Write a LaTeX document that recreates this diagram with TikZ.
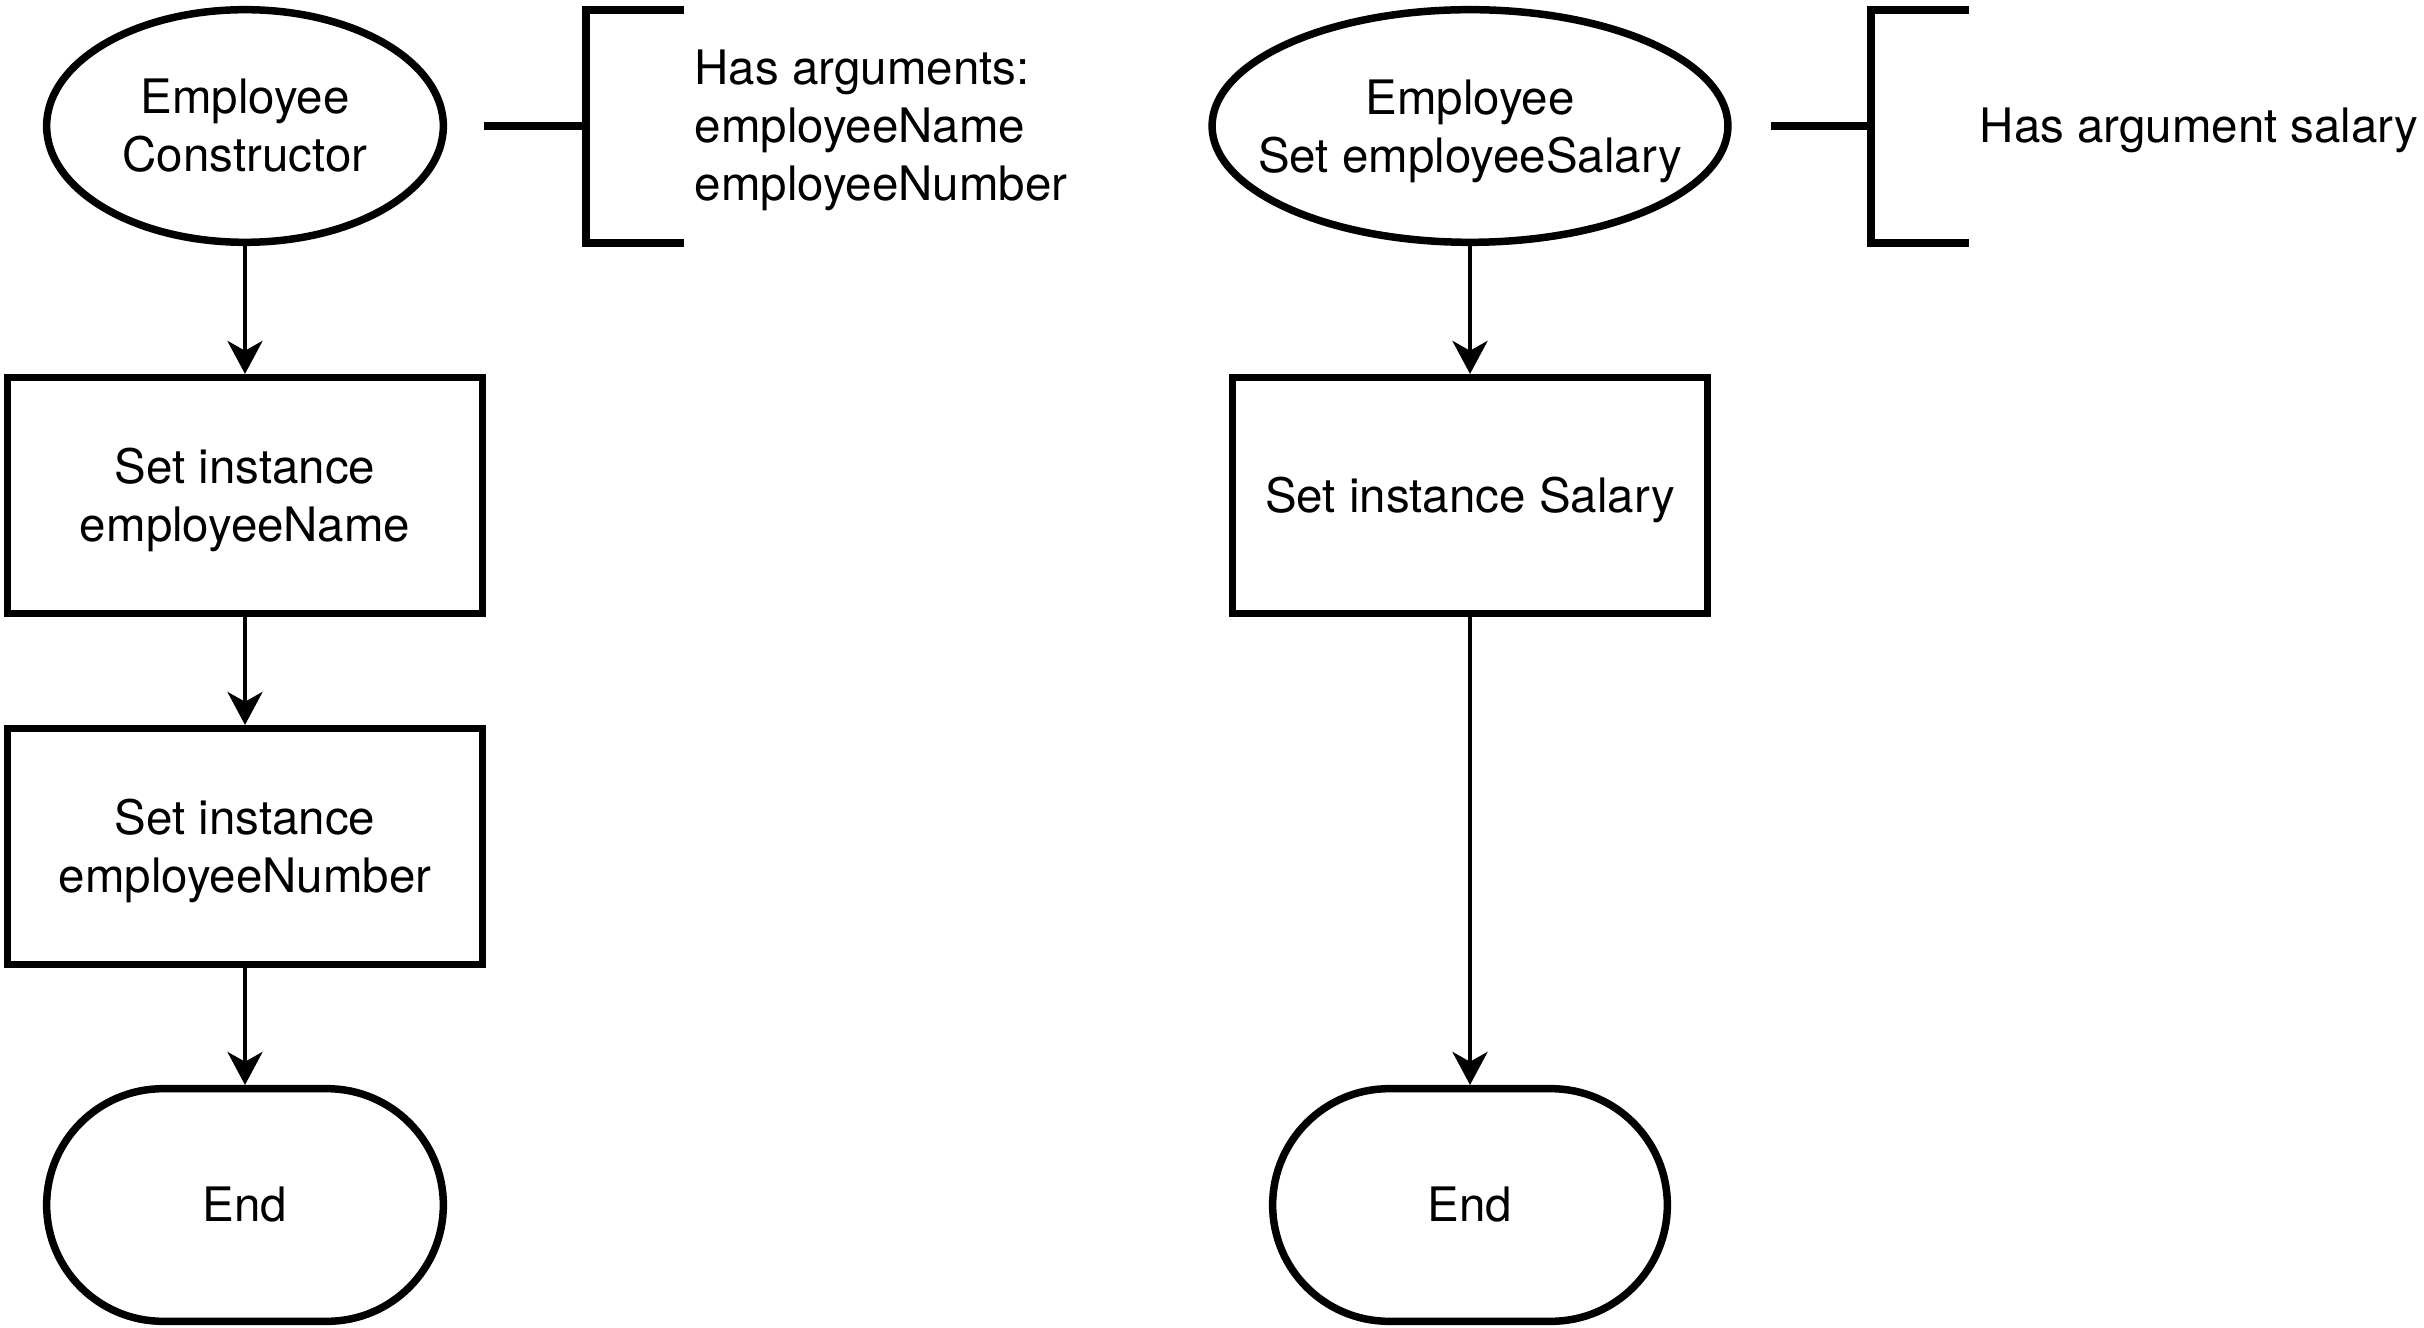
\documentclass[tikz,border=0pt]{standalone}
\usepackage{fontspec}
\setmainfont{TeX Gyre Heros}
\usetikzlibrary{shapes.geometric,arrows.meta}
\begin{document}
\begin{tikzpicture}[x=0.01cm,y=-0.01cm,
  every node/.style={font=\fontsize{13.5}{16.5}\selectfont, inner sep=0pt, align=center},
  bord/.style={draw=black, line width=2.13pt, fill=white},
  ellnode/.style={bord, ellipse, minimum height=2.325cm},
  boxnode/.style={bord, rectangle, minimum width=4.745cm, minimum height=2.355cm},
  endnode/.style={bord, rectangle, rounded corners=1.1625cm, minimum height=2.325cm},
  lbl/.style={yshift=-1.4pt},
  arr/.style={line width=1pt, -{Stealth[length=9.4pt, width=10pt, inset=2.8pt]}},
  brk/.style={line width=2.2pt},
  note/.style={anchor=west, align=left, yshift=-1.2pt}]
\useasboundingbox (0,0) rectangle (2424,1328);
% left column
\node[ellnode, minimum width=3.965cm] (le) at (245,126) {};
\node (let) at (le) {Employee\\Constructor};
\node[boxnode] (lr1) at (245,495.5) {};
\node[lbl] (lr1t) at (lr1) {Set instance\\employeeName};
\node[boxnode] (lr2) at (245,846.5) {};
\node[lbl] (lr2t) at (lr2) {Set instance\\employeeNumber};
\node[endnode, minimum width=3.965cm] (lend) at (245,1205) {End};
\draw[arr] (le) -- (lr1);
\draw[arr] (lr1) -- (lr2);
\draw[arr] (lr2) -- (lend);
% left bracket
\coordinate (lb0) at (484,126);
\coordinate (lb1) at (586,126);
\coordinate (lbt) at (684,10);
\coordinate (lbb) at (684,243);
\draw[brk] (lb0) -- (lb1);
\draw[brk] (lbt) -- (lbt -| lb1) -- (lbb -| lb1) -- (lbb);
\node[note] (lnote) at (694,126) {Has arguments:\\employeeName\\employeeNumber};
% right column
\node[ellnode, minimum width=5.155cm] (re) at (1470,126) {};
\node[lbl] (ret) at (re) {Employee\\Set employeeSalary};
\node[boxnode] (rr1) at (1470,495.5) {};
\node[lbl] (rr1t) at (rr1) {Set instance Salary};
\node[endnode, minimum width=3.945cm] (rend) at (1470,1205) {End};
\draw[arr] (re) -- (rr1);
\draw[arr] (rr1) -- (rend);
% right bracket
\coordinate (rb0) at (1771,126);
\coordinate (rb1) at (1871,126);
\coordinate (rbt) at (1969,10);
\coordinate (rbb) at (1969,243);
\draw[brk] (rb0) -- (rb1);
\draw[brk] (rbt) -- (rbt -| rb1) -- (rbb -| rb1) -- (rbb);
\node[note] (rnote) at (1979,126) {Has argument salary};
\end{tikzpicture}
\end{document}
